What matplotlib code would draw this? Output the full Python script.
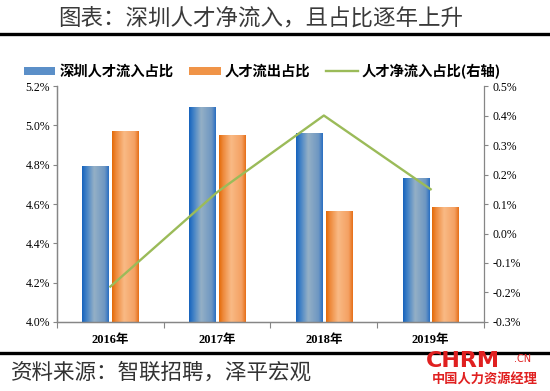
import numpy as np
import matplotlib.pyplot as plt
from matplotlib.colors import LinearSegmentedColormap
from matplotlib.patches import Patch
from matplotlib.lines import Line2D

# data
years = ['2016年', '2017年', '2018年', '2019年']
inflow = [4.79, 5.09, 4.96, 4.73]      # 深圳人才流入占比 (%)
outflow = [4.97, 4.95, 4.56, 4.58]     # 人才流出占比 (%)
net = [-0.18, 0.14, 0.40, 0.15]        # 人才净流入占比 (%), right axis
left_ticks = [4.0, 4.2, 4.4, 4.6, 4.8, 5.0, 5.2]
right_ticks = [-0.3, -0.2, -0.1, 0.0, 0.1, 0.2, 0.3, 0.4, 0.5]

cjk = ['Noto Sans CJK SC', 'DejaVu Sans']
serif_cjk = ['Liberation Serif', 'Noto Sans CJK SC']

blue_cmap = LinearSegmentedColormap.from_list(
    'b', [(0, '#1763bd'), (0.15, '#3f80c6'), (0.45, '#94b0c6'), (0.85, '#6d96c2'), (1, '#2a6fc2')])
orange_cmap = LinearSegmentedColormap.from_list(
    'o', [(0, '#e46a08'), (0.15, '#ee8a3c'), (0.45, '#f9ba85'), (0.85, '#f4a062'), (1, '#e6701a')])

fig = plt.figure(figsize=(5.5, 3.91), dpi=100)
ax1 = fig.add_axes([0.1036, 0.1765, 0.7764, 0.6035])
ax2 = ax1.twinx()

x = np.arange(len(years))
w = 0.245
off = 0.14
grad = np.linspace(0, 1, 64).reshape(1, -1)
for xi, v in zip(x, inflow):
    ax1.imshow(grad, cmap=blue_cmap, extent=[xi - off - w / 2, xi - off + w / 2, 4.0, v],
               aspect='auto', zorder=2, interpolation='bilinear')
for xi, v in zip(x, outflow):
    ax1.imshow(grad, cmap=orange_cmap, extent=[xi + off - w / 2, xi + off + w / 2, 4.0, v],
               aspect='auto', zorder=2, interpolation='bilinear')

ax1.set_xlim(-0.5, 3.5)
ax1.set_ylim(4.0, 5.2)
ax1.set_yticks(left_ticks)
ax1.set_yticklabels([f'{t:.1f}%' for t in left_ticks], family='Liberation Serif', fontsize=8.5)
ax1.set_xticks([-0.5, 0.5, 1.5, 2.5, 3.5])
ax1.set_xticklabels([])
ax1.set_xticks(x, minor=True)
ax1.set_xticklabels(years, minor=True, family=serif_cjk, fontsize=9, fontweight='bold')
ax1.tick_params(axis='x', which='minor', length=0, pad=9)
ax1.tick_params(axis='x', which='major', length=4, color='#868686')
ax1.tick_params(axis='y', length=3, color='#868686', pad=2)

ax2.plot(x, net, color='#9bbb59', lw=1.7, zorder=3)
ax2.set_ylim(-0.3, 0.5)
ax2.set_yticks(right_ticks)
ax2.set_yticklabels([f'{t:.1f}%' for t in right_ticks], family='Liberation Serif', fontsize=8.5)
ax2.tick_params(axis='y', length=3, color='#868686', pad=3)

for ax in (ax1, ax2):
    ax.spines['top'].set_visible(False)
    for s in ('left', 'right', 'bottom'):
        ax.spines[s].set_color('#868686')
        ax.spines[s].set_linewidth(0.9)
ax1.spines['right'].set_visible(False)

# legend
handles = [Patch(facecolor='#5b8fc8'), Patch(facecolor='#f09448'),
           Line2D([], [], color='#9bbb59', lw=1.7)]
labels = ['深圳人才流入占比', '人才流出占比', '人才净流入占比(右轴)']
fig.legend(handles, labels, loc='center', bbox_to_anchor=(0.477, 0.818), ncol=3, frameon=False,
           prop={'family': cjk, 'size': 10.3, 'weight': 'bold'}, handlelength=2.2, handleheight=0.5,
           handletextpad=0.3, columnspacing=1.1)

# title and rules
fig.text(0.473, 0.953, '图表：深圳人才净流入，且占比逐年上升', ha='center', va='center',
         family=cjk, fontsize=16.2, color='#3a3a3a')
fig.add_artist(Line2D([0, 1], [0.914, 0.914], color='black', lw=2.4))
fig.add_artist(Line2D([0, 1], [0.097, 0.097], color='black', lw=2.4))

# source
fig.text(0.02, 0.047, '资料来源：智联招聘，泽平宏观', ha='left', va='center',
         family=cjk, fontsize=15.5, color='#333333')

# watermark
fig.text(0.775, 0.078, 'CHRM', ha='left', va='center', family='DejaVu Sans',
         fontsize=16, fontweight='bold', color='#e02020')
fig.text(0.935, 0.082, '.CN', ha='left', va='center', family='DejaVu Sans',
         fontsize=7, color='#e02020')
fig.text(0.785, 0.030, '中国人力资源经理', ha='left', va='center', family=cjk,
         fontsize=9.5, fontweight='bold', color='#e02020')

fig.savefig('out.png', dpi=100)
